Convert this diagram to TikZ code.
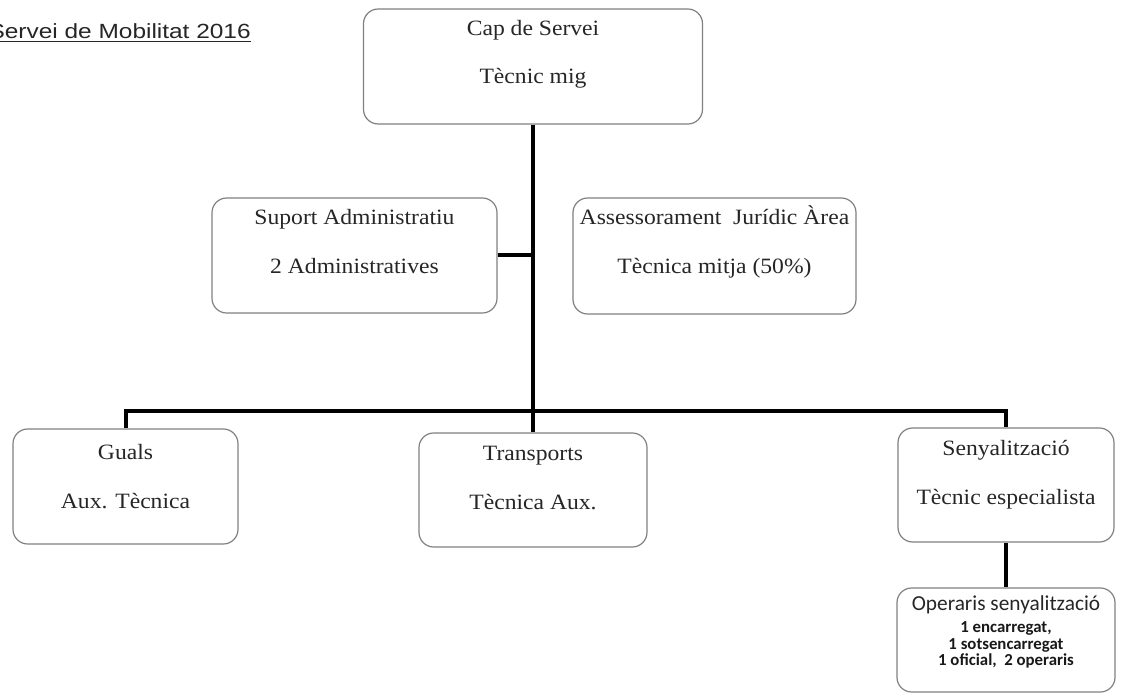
\documentclass[tikz,border=0pt]{standalone}
\usepackage{fontspec}
\setmainfont{Liberation Serif}
\newfontfamily\serifw[FakeStretch=1.08]{Liberation Serif}
\newfontfamily\titlefont[FakeStretch=1.19]{Liberation Sans}
\newfontfamily\calfont{Carlito}
\begin{document}
\begin{tikzpicture}[x=0.75pt,y=-0.75pt,
  box/.style={draw=black!50, line width=0.9pt, rounded corners=11pt, fill=white, inner sep=0pt},
  txt/.style={anchor=base, inner sep=0pt, font=\serifw\fontsize{16.4pt}{18pt}\selectfont, text=black!85},
  opt/.style={anchor=base, inner sep=0pt, font=\calfont\fontsize{16pt}{18pt}\selectfont, text=black!85},
  opb/.style={anchor=base, inner sep=0pt, font=\calfont\bfseries\fontsize{12.6pt}{14pt}\selectfont, text=black!90},
  conn/.style={line width=3pt, black, line join=miter}]
\useasboundingbox (0,0) rectangle (1122,698);
\fill[white] (0,0) rectangle (1122,698);

% title
\node[anchor=base east, inner sep=0pt, font=\titlefont\fontsize{15.4pt}{17pt}\selectfont, text=black!85] (title) at (251,39) {\underline{Servei de Mobilitat 2016}};

% boxes
\node[box, minimum width=339*0.75pt, minimum height=115*0.75pt] (cap) at (533,66.5) {};
\node[box, minimum width=285*0.75pt, minimum height=115*0.75pt] (sup) at (354.5,255.5) {};
\node[box, minimum width=283*0.75pt, minimum height=116*0.75pt] (ase) at (714.5,256) {};
\node[box, minimum width=225*0.75pt, minimum height=115*0.75pt] (gua) at (125.5,486.5) {};
\node[box, minimum width=228*0.75pt, minimum height=114*0.75pt] (tra) at (533,490) {};
\node[box, minimum width=216*0.75pt, minimum height=114*0.75pt] (sen) at (1006,485) {};
\node[box, minimum width=218*0.75pt, minimum height=104*0.75pt] (ope) at (1006,640) {};

% texts
\node[txt] (capa) at (533,36) {Cap de Servei};
\node[txt] (capb) at (533,84) {Tècnic mig};
\node[txt] (supa) at (354.5,225) {Suport Administratiu};
\node[txt] (supb) at (354.5,274) {2 Administratives};
\node[txt] (asea) at (714.5,225) {Assessorament\ \ Jurídic Àrea};
\node[txt] (aseb) at (714.5,274) {Tècnica mitja (50\%)};
\node[txt] (guaa) at (125.5,460) {Guals};
\node[txt] (guab) at (125.5,509) {Aux. Tècnica};
\node[txt] (traa) at (533,461) {Transports};
\node[txt] (trab) at (533,510) {Tècnica Aux.};
\node[txt] (sena) at (1006,456) {Senyalització};
\node[txt] (senb) at (1006,505) {Tècnic especialista};
\node[opt] (opea) at (1006,610) {Operaris senyalització};
\node[opb] (opeb) at (1006,633) {1 encarregat,};
\node[opb] (opec) at (1006,649) {1 sotsencarregat};
\node[opb] (oped) at (1006,665) {1 oficial,\ \ 2 operaris};

% connectors
\coordinate (busL) at (125.5,411);
\coordinate (busR) at (1006,411);
\draw[conn] (cap.south) -- (tra.north);
\draw[conn] (sup.east) -- (sup.east -| cap.south);
\draw[conn] (gua.north) -- (busL) -- (busR) -- (sen.north);
\draw[conn] (sen.south) -- (ope.north);
\end{tikzpicture}
\end{document}
